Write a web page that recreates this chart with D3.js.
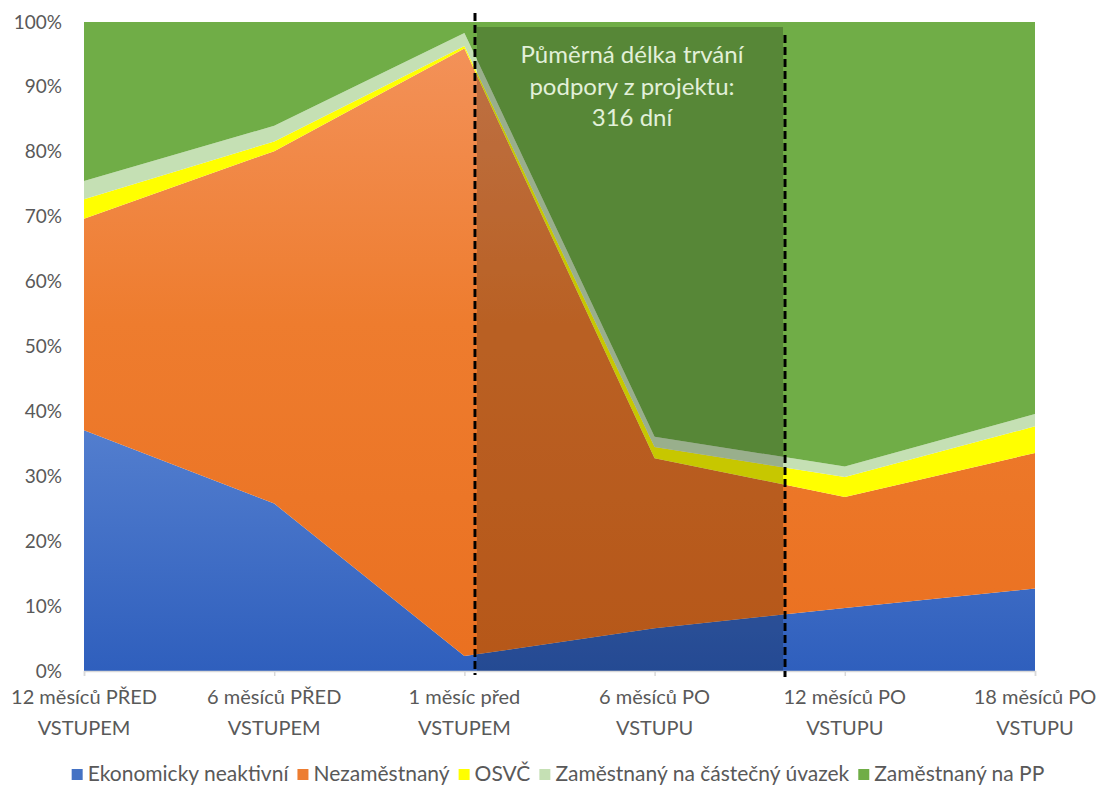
<!DOCTYPE html>
<html>
<head>
<meta charset="utf-8">
<script src="https://cdn.jsdelivr.net/npm/d3@7"></script>
<style>
  html, body { margin: 0; padding: 0; background: #fff; }
  svg { display: block; font-family: Lato, "Open Sans", sans-serif; }
</style>
</head>
<body>
<svg id="chart" width="1097" height="789"></svg>
<script>
// Categories (two-line labels)
const categories = [
  ["12 měsíců PŘED", "VSTUPEM"],
  ["6 měsíců PŘED", "VSTUPEM"],
  ["1 měsíc před", "VSTUPEM"],
  ["6 měsíců PO", "VSTUPU"],
  ["12 měsíců PO", "VSTUPU"],
  ["18 měsíců PO", "VSTUPU"]
];

// Shares of participants by status (percent)
const ekonomickyNeaktivni = [37.1, 25.8, 2.3, 6.6, 9.7, 12.7];
const nezamestnany        = [32.6, 54.3, 93.6, 26.2, 17.1, 20.9];
const osvc                = [3.0, 1.5, 0.4, 1.7, 3.1, 4.1];
const castecnyUvazek      = [2.8, 2.4, 2.0, 1.6, 1.6, 1.9];
const zamestnanyPP        = [24.5, 16.0, 1.7, 63.9, 68.5, 60.4];

const seriesNames = ["Ekonomicky neaktivní", "Nezaměstnaný", "OSVČ", "Zaměstnaný na částečný úvazek", "Zaměstnaný na PP"];
const seriesValues = [ekonomickyNeaktivni, nezamestnany, osvc, castecnyUvazek, zamestnanyPP];
const seriesColors = ["#4472C4", "#ED7D31", "#FFFF00", "#C5E0B4", "#70AD47"];

const yTicks = [0, 10, 20, 30, 40, 50, 60, 70, 80, 90, 100];

// Support-period annotation
const noteLines = ["Půměrná délka trvání", "podpory z projektu:", "316 dní"];

const svg = d3.select("#chart");
const plotLeft = 84, plotRight = 1035, plotTop = 22, plotBottom = 671;

const x = d3.scalePoint().domain(d3.range(categories.length)).range([plotLeft, plotRight]);
const y = d3.scaleLinear().domain([0, 100]).range([plotBottom, plotTop]);

// Table for stacking
const table = categories.map((c, i) => {
  const row = { i };
  seriesNames.forEach((n, k) => row[n] = seriesValues[k][i]);
  return row;
});
const stacked = d3.stack().keys(seriesNames)(table);

// Gradients for the lower two series
const defs = svg.append("defs");
const gBlue = defs.append("linearGradient").attr("id", "gBlue")
  .attr("gradientUnits", "userSpaceOnUse").attr("x1", 0).attr("x2", 0).attr("y1", 420).attr("y2", plotBottom);
gBlue.append("stop").attr("offset", 0).attr("stop-color", "#547fcf");
gBlue.append("stop").attr("offset", 1).attr("stop-color", "#2f5fbd");
const gOrange = defs.append("linearGradient").attr("id", "gOrange")
  .attr("gradientUnits", "userSpaceOnUse").attr("x1", 0).attr("x2", 0).attr("y1", 40).attr("y2", plotBottom);
gOrange.append("stop").attr("offset", 0).attr("stop-color", "#F3925A");
gOrange.append("stop").attr("offset", 0.45).attr("stop-color", "#EE7C2E");
gOrange.append("stop").attr("offset", 1).attr("stop-color", "#EA7020");

const fills = ["url(#gBlue)", "url(#gOrange)", seriesColors[2], seriesColors[3], seriesColors[4]];

const area = d3.area()
  .x(d => x(d.data.i))
  .y0(d => y(d[0]))
  .y1(d => y(d[1]));

svg.append("g").selectAll("path").data(stacked).join("path")
  .attr("d", area)
  .attr("fill", (d, k) => fills[k]);

// Darkened band for the support period
const bandX0 = 477, bandX1 = 783, bandTop = 27;
svg.append("rect")
  .attr("x", bandX0).attr("y", bandTop)
  .attr("width", bandX1 - bandX0).attr("height", plotBottom - bandTop)
  .attr("fill", "#000").attr("opacity", 0.22);

svg.append("g").selectAll("text").data(noteLines).join("text")
  .attr("x", 632)
  .attr("y", (d, i) => 63 + i * 31.5)
  .attr("text-anchor", "middle")
  .attr("font-size", 24)
  .attr("fill", "#E2F0D9")
  .text(d => d);

// Bottom axis
const xAxis = svg.append("g").attr("transform", `translate(0,${plotBottom})`)
  .call(d3.axisBottom(x).tickSize(5).tickFormat(""));
xAxis.select(".domain").attr("stroke", "#D9D9D9").attr("stroke-width", 1.5);
xAxis.selectAll(".tick line").attr("stroke", "#D9D9D9").attr("stroke-width", 1.5);

const xl = svg.append("g").selectAll("text").data(categories).join("text")
  .attr("text-anchor", "middle")
  .attr("font-size", 20)
  .attr("fill", "#595959")
  .attr("transform", (d, i) => `translate(${x(i)},0)`);
xl.append("tspan").attr("x", 0).attr("y", 704).text(d => d[0]);
xl.append("tspan").attr("x", 0).attr("y", 735).text(d => d[1]);

// Left axis labels
const yAxis = svg.append("g").attr("transform", `translate(${plotLeft},0)`)
  .call(d3.axisLeft(y).tickValues(yTicks).tickSize(0).tickPadding(22).tickFormat(d => d + "%"));
yAxis.select(".domain").remove();
yAxis.selectAll("text").attr("font-size", 19).attr("fill", "#595959").attr("font-family", "Lato, 'Open Sans', sans-serif");

// Dashed markers at start and end of the support period
const markers = [{ x: 475, y1: 13, y2: 675 }, { x: 785, y1: 35, y2: 677 }];
svg.append("g").selectAll("line").data(markers).join("line")
  .attr("x1", d => d.x).attr("x2", d => d.x)
  .attr("y1", d => d.y1).attr("y2", d => d.y2)
  .attr("stroke", "#000").attr("stroke-width", 3)
  .attr("stroke-dasharray", "8,4");

// Legend
const legend = svg.append("g");
let cx = 0;
seriesNames.forEach((n, k) => {
  const g = legend.append("g");
  g.append("rect").attr("x", 0).attr("y", -12).attr("width", 11).attr("height", 11).attr("fill", seriesColors[k]);
  const t = g.append("text").attr("x", 16).attr("y", 0).attr("font-size", 21).attr("fill", "#595959").text(n);
  const w = 16 + t.node().getComputedTextLength();
  g.attr("transform", `translate(${cx},0)`);
  cx += w + 9;
});
const legendWidth = cx - 9;
legend.attr("transform", `translate(${558 - legendWidth / 2},781)`);
</script>
</body>
</html>
